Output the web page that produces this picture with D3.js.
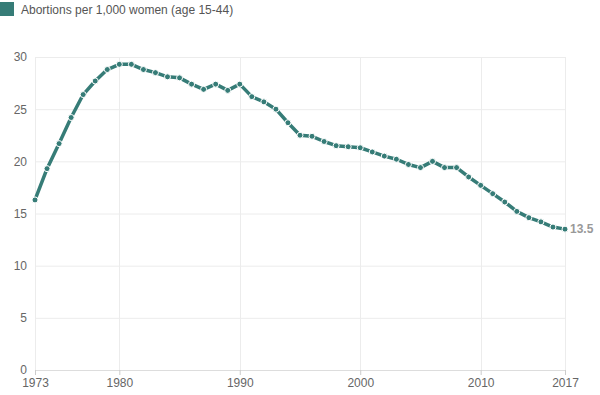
<!DOCTYPE html>
<html>
<head>
<meta charset="utf-8">
<script src="https://cdn.jsdelivr.net/npm/d3@7"></script>
<style>
  body { margin: 0; background: #fff; font-family: "Liberation Sans", Arial, sans-serif; }
</style>
</head>
<body>
<div id="chart-area"></div>
<script>
// data
var years = [1973, 1974, 1975, 1976, 1977, 1978, 1979, 1980, 1981, 1982, 1983, 1984, 1985, 1986,
	1987, 1988, 1989, 1990, 1991, 1992, 1993, 1994, 1995, 1996, 1997, 1998, 1999, 2000, 2001,
	2002, 2003, 2004, 2005, 2006, 2007, 2008, 2009, 2010, 2011, 2012, 2013, 2014, 2015, 2016, 2017];
var rates = [16.3, 19.3, 21.7, 24.2, 26.4, 27.7, 28.8, 29.3, 29.3, 28.8, 28.5, 28.1, 28.0, 27.4,
	26.9, 27.4, 26.8, 27.4, 26.2, 25.7, 25.0, 23.7, 22.5, 22.4, 21.9, 21.5, 21.4, 21.3, 20.9,
	20.5, 20.2, 19.7, 19.4, 20.0, 19.4, 19.4, 18.5, 17.7, 16.9, 16.1, 15.2, 14.6, 14.2, 13.7, 13.5];
var xTicks = [1973, 1980, 1990, 2000, 2010, 2017];
var yTicks = [0, 5, 10, 15, 20, 25, 30];
var seriesName = "Abortions per 1,000 women (age 15-44)";

var color = "#367c77";

var margin = {top: 57, left: 35, bottom: 25, right: 35};
var width = 600 - margin.left - margin.right;
var height = 395 - margin.top - margin.bottom;

var svg = d3.select("#chart-area")
	.append("svg")
		.attr("width", 600)
		.attr("height", 395);

// legend
svg.append("rect")
	.attr("x", 0)
	.attr("y", 2)
	.attr("width", 14)
	.attr("height", 14)
	.attr("fill", color);
svg.append("text")
	.attr("x", 21)
	.attr("y", 14)
	.attr("font-size", "12px")
	.attr("fill", "#555")
	.text(seriesName);

var g = svg.append("g")
	.attr("transform", "translate(" + margin.left + ", " + margin.top + ")");

var x = d3.scaleLinear()
	.domain([1973, 2017])
	.range([0, width]);

var y = d3.scaleLinear()
	.domain([0, 30])
	.range([height, 0]);

// grid
g.append("g")
	.selectAll("line.h")
	.data(yTicks)
	.enter().append("line")
		.attr("x1", 0)
		.attr("x2", width)
		.attr("y1", function(d){ return y(d) + 0.5; })
		.attr("y2", function(d){ return y(d) + 0.5; })
		.attr("stroke", function(d){ return d === 0 ? "#ddd" : "#ececec"; });

g.append("g")
	.selectAll("line.v")
	.data(xTicks)
	.enter().append("line")
		.attr("x1", function(d){ return Math.round(x(d)) + 0.5; })
		.attr("x2", function(d){ return Math.round(x(d)) + 0.5; })
		.attr("y1", 0)
		.attr("y2", height)
		.attr("stroke", "#ececec");

// x axis
var xAxisCall = d3.axisBottom(x)
	.tickValues(xTicks)
	.tickFormat(d3.format("d"))
	.tickSize(5)
	.tickPadding(3);
var xAxis = g.append("g")
	.attr("transform", "translate(0, " + height + ")")
	.call(xAxisCall);
xAxis.select(".domain").remove();
xAxis.selectAll("line").attr("stroke", "#ccc");
xAxis.selectAll("text")
	.attr("fill", "#666")
	.attr("font-size", "12px")
	.attr("font-family", "Liberation Sans, Arial, sans-serif");

// y axis
var yAxisCall = d3.axisLeft(y)
	.tickValues(yTicks)
	.tickSize(0)
	.tickPadding(8);
var yAxis = g.append("g").call(yAxisCall);
yAxis.select(".domain").remove();
yAxis.selectAll("text")
	.attr("fill", "#666")
	.attr("font-size", "12px")
	.attr("font-family", "Liberation Sans, Arial, sans-serif");

var data = years.map(function(yr, i){ return {year: yr, rate: rates[i]}; });

// line
var line = d3.line()
	.x(function(d){ return x(d.year); })
	.y(function(d){ return y(d.rate); });

g.append("path")
	.datum(data)
	.attr("fill", "none")
	.attr("stroke", color)
	.attr("stroke-width", 3.5)
	.attr("stroke-linejoin", "round")
	.attr("d", line);

g.selectAll("circle")
	.data(data)
	.enter().append("circle")
		.attr("cx", function(d){ return x(d.year); })
		.attr("cy", function(d){ return y(d.rate); })
		.attr("r", 3)
		.attr("fill", color)
		.attr("stroke", "#fff")
		.attr("stroke-width", 1);

// end label
var last = data[data.length - 1];
g.append("text")
	.attr("x", x(last.year) + 5)
	.attr("y", y(last.rate) + 4)
	.attr("font-size", "12px")
	.attr("font-weight", "bold")
	.attr("fill", "#999")
	.text(last.rate);
</script>
</body>
</html>
